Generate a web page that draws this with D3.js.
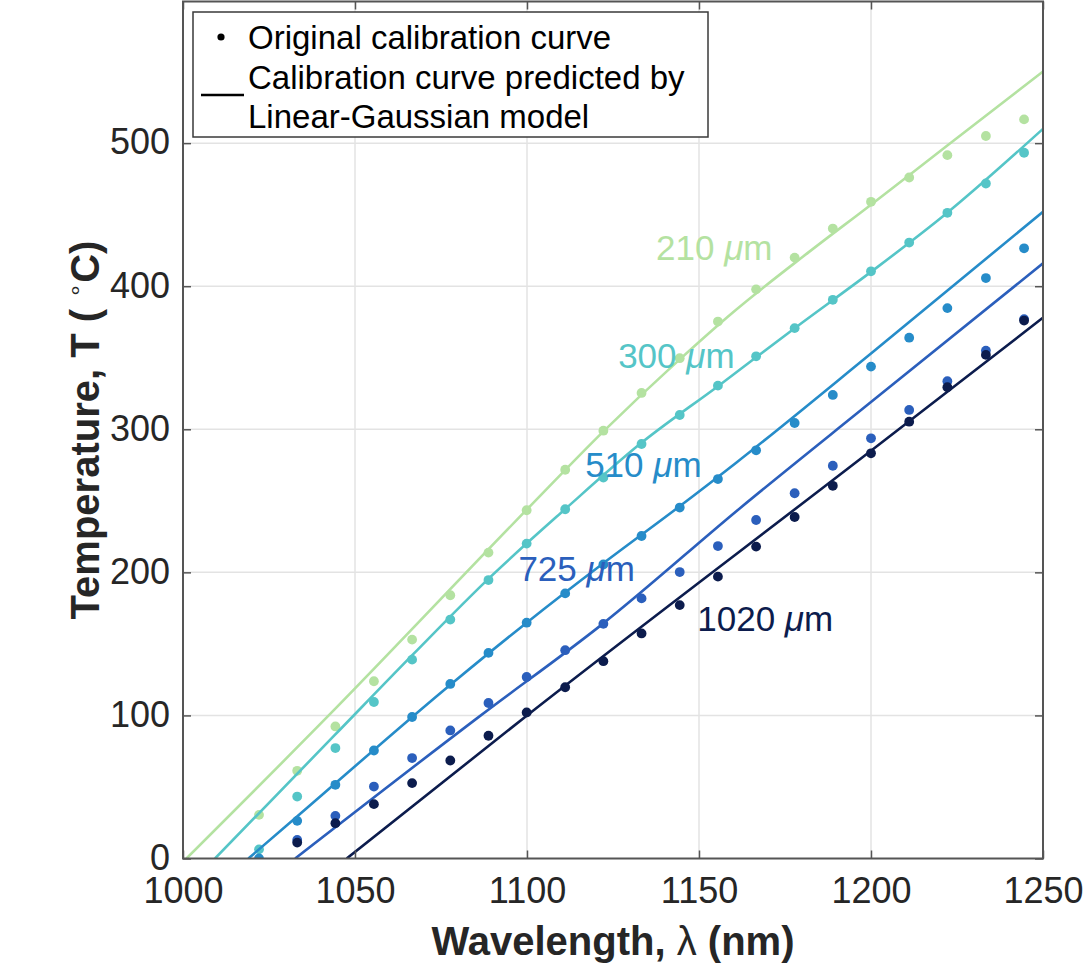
<!DOCTYPE html>
<html>
<head>
<meta charset="utf-8">
<script src="https://cdn.jsdelivr.net/npm/d3@7"></script>
<style>
  body { margin: 0; background: #fff; }
  svg { display: block; }
  text { font-family: 'Liberation Sans', Arial, Helvetica, sans-serif; }
</style>
</head>
<body>
<svg id="calibPlot"></svg>
<script>
// wavelengths (nm) at which the original calibration points were taken
const wavelengths = [1022.1, 1033.2, 1044.3, 1055.5, 1066.6, 1077.7, 1088.8, 1099.9, 1111.1, 1122.2, 1133.3,
                     1144.4, 1155.5, 1166.6, 1177.8, 1188.9, 1200.0, 1211.1, 1222.2, 1233.4, 1244.5];

// sample thicknesses (um)
const thicknesses = ['210', '300', '510', '725', '1020'];

// original calibration points (deg C), null = off the axes
const measured210 = [30.5, 61.3, 92.3, 123.9, 153, 184, 213.8, 243.4, 271.7, 299, 325.4,
                     349.7, 375.3, 397.8, 420, 440.3, 459, 476, 491.6, 505, 516.6];
const measured300 = [6.4, 43.3, 77.2, 109.4, 139, 167, 194.6, 220.1, 244.1, 266.3, 289.7,
                     310, 330.5, 351, 370.7, 390.5, 410.4, 430.5, 451.3, 471.8, 493.3];
const measured510 = [0, 26.3, 51.5, 75.5, 98.9, 122, 143.7, 164.8, 185.3, 205.5, 225.4,
                     245.3, 265.2, 285.3, 304.4, 324, 343.8, 364, 384.7, 405.7, 426.5];
const measured725 = [null, 13, 29.8, 50.3, 70.2, 89.5, 108.7, 126.9, 145.6, 164, 181.8,
                     200.2, 218.4, 236.6, 255.3, 274.5, 293.7, 313.5, 333.6, 355, 377];
const measured1020 = [null, 11.1, 24.7, 38, 52.7, 68.5, 85.8, 102.1, 119.7, 137.9, 157.3,
                      177.1, 197, 218, 238.7, 260.5, 283.2, 305.3, 329.4, 352, 376];

// curves predicted by the Linear-Gaussian model (wavelength, temperature)
const model210Lam = [1001, 1044, 1100, 1122, 1144, 1160, 1182, 1200, 1222, 1250];
const model210T   = [0, 104, 244, 298, 348, 382, 424, 457, 498, 550];
const model300Lam = [1009.3, 1044, 1067, 1089, 1111, 1133, 1156, 1178, 1200, 1222, 1250];
const model300T   = [0, 86, 143, 196, 244, 290, 331, 371, 410, 451, 510];
const model510Lam = [1019, 1033, 1078, 1100, 1122, 1144, 1161, 1200, 1250];
const model510T   = [0, 29, 122, 165, 206, 245.5, 277, 353, 452];
const model725Lam = [1032.6, 1086, 1122, 1162, 1200, 1250];
const model725T   = [0, 99, 164, 245, 319, 416];
const model1020Lam = [1047.6, 1100, 1200, 1250];
const model1020T   = [0, 100, 285, 378];

// axis ticks
const xTicks = [1000, 1050, 1100, 1150, 1200, 1250];
const yTicks = [0, 100, 200, 300, 400, 500];

// build series table from the arrays above
const measuredAll = [measured210, measured300, measured510, measured725, measured1020];
const modelLamAll = [model210Lam, model300Lam, model510Lam, model725Lam, model1020Lam];
const modelTAll = [model210T, model300T, model510T, model725T, model1020T];
const series = thicknesses.map((t, i) => ({
  name: t,
  points: wavelengths.map((w, j) => ({ w: w, t: measuredAll[i][j] })).filter(p => p.t !== null),
  model: modelLamAll[i].map((w, j) => ({ w: w, t: modelTAll[i][j] }))
}));

// colours, YlGnBu-like
const colors = ['#b4e2a1', '#55c5c7', '#268cc9', '#2b5fbc', '#0c1c4d'];

// where each thickness label sits (start of text, baseline), in data units
const labelSpots = [
  { w: 1137.5, t: 418.3 },
  { w: 1126.5, t: 342.6 },
  { w: 1116.9, t: 266.7 },
  { w: 1097.5, t: 194.2 },
  { w: 1149.5, t: 159.2 }
];

// svg size and plot box
let widthSVG = 1083;
let heightSVG = 964;
let box = { left: 183, right: 1043, top: 1.5, bottom: 858.5 };

let SVG = d3.select('svg#calibPlot')
            .attr('width', widthSVG)
            .attr('height', heightSVG);

// scales
let x = d3.scaleLinear().domain([1000, 1250]).range([box.left, box.right]);
let y = d3.scaleLinear().domain([0, 599]).range([box.bottom, box.top]);

// grid lines
let grid = SVG.append('g').classed('grid', true);
grid.selectAll('line.vgrid')
    .data(xTicks.slice(1, -1))
    .enter()
    .append('line')
    .attr('x1', d => x(d)).attr('x2', d => x(d))
    .attr('y1', box.top).attr('y2', box.bottom)
    .style('stroke', '#e3e3e3')
    .style('stroke-width', '1.5px');
grid.selectAll('line.hgrid')
    .data(yTicks.slice(1))
    .enter()
    .append('line')
    .attr('x1', box.left).attr('x2', box.right)
    .attr('y1', d => y(d)).attr('y2', d => y(d))
    .style('stroke', '#e3e3e3')
    .style('stroke-width', '1.5px');

// clip to the axes
SVG.append('clipPath').attr('id', 'plotClip')
   .append('rect')
   .attr('x', box.left).attr('y', box.top)
   .attr('width', box.right - box.left).attr('height', box.bottom - box.top);

let lineGen = d3.line()
                .x(d => x(d.w))
                .y(d => y(d.t))
                .curve(d3.curveMonotoneX);

// series: model line then original points
let seriesGroups = SVG.selectAll('g.series')
                      .data(series)
                      .enter()
                      .append('g')
                      .classed('series', true)
                      .attr('clip-path', 'url(#plotClip)');

seriesGroups.append('path')
            .attr('d', d => lineGen(d.model))
            .style('fill', 'none')
            .style('stroke', (d, i) => colors[i])
            .style('stroke-width', '2.6px');

seriesGroups.each(function(d, i) {
  d3.select(this).selectAll('circle')
    .data(d.points)
    .enter()
    .append('circle')
    .attr('cx', p => x(p.w))
    .attr('cy', p => y(p.t))
    .attr('r', 4.9)
    .style('fill', colors[i]);
});

// axes (ticks point inwards, box all round)
let axisCol = '#555';
let fontTick = '36px';

let xAxis = d3.axisBottom(x).tickValues(xTicks).tickSize(-8).tickPadding(19).tickFormat(d3.format('d'));
let gx = SVG.append('g').attr('transform', `translate(0, ${box.bottom})`).call(xAxis);
let yAxis = d3.axisLeft(y).tickValues(yTicks).tickSize(-8).tickPadding(13).tickFormat(d3.format('d'));
let gy = SVG.append('g').attr('transform', `translate(${box.left}, 0)`).call(yAxis);
let gxTop = SVG.append('g').attr('transform', `translate(0, ${box.top})`)
               .call(d3.axisTop(x).tickValues(xTicks).tickSize(-8).tickFormat(''));
let gyRight = SVG.append('g').attr('transform', `translate(${box.right}, 0)`)
                 .call(d3.axisRight(y).tickValues(yTicks).tickSize(-8).tickFormat(''));

[gx, gy, gxTop, gyRight].forEach(g => {
  g.select('.domain').remove();
  g.selectAll('.tick line').style('stroke', axisCol).style('stroke-width', '1.5px');
  g.selectAll('.tick text')
   .style('font-size', fontTick)
   .style('font-family', "'Liberation Sans', Arial, sans-serif")
   .style('fill', '#262626');
});
// keep the "0" label clear of "1000"
gy.selectAll('.tick text').attr('dy', '0.3em');

SVG.append('rect')
   .attr('x', box.left).attr('y', box.top)
   .attr('width', box.right - box.left).attr('height', box.bottom - box.top)
   .style('fill', 'none')
   .style('stroke', axisCol)
   .style('stroke-width', '2px');

// axis titles
SVG.append('text')
   .attr('x', (box.left + box.right) / 2)
   .attr('y', 955)
   .style('text-anchor', 'middle')
   .style('font-size', '40px')
   .style('font-weight', 'bold')
   .style('fill', '#262626')
   .call(t => {
     t.append('tspan').text('Wavelength, ');
     t.append('tspan').style('font-weight', 'normal').text('λ');
     t.append('tspan').text(' (nm)');
   });

SVG.append('text')
   .attr('transform', `translate(99, ${(box.top + box.bottom) / 2}) rotate(-90)`)
   .style('text-anchor', 'middle')
   .style('font-size', '40px')
   .style('font-weight', 'bold')
   .style('fill', '#262626')
   .call(t => {
     t.append('tspan').text('Temperature, T ( ');
     t.append('tspan').attr('dy', -16).style('font-size', '24px').style('font-weight', 'normal').text('∘');
     t.append('tspan').attr('dy', 16).text('C)');
   });

// thickness labels
SVG.selectAll('text.thickLabel')
   .data(labelSpots)
   .enter()
   .append('text')
   .classed('thickLabel', true)
   .attr('x', d => x(d.w))
   .attr('y', d => y(d.t))
   .style('font-size', '35px')
   .style('fill', (d, i) => colors[i])
   .each(function(d, i) {
     let t = d3.select(this);
     t.append('tspan').text(thicknesses[i] + ' ');
     t.append('tspan').style('font-style', 'italic').text('μ');
     t.append('tspan').text('m');
   });

// legend
let legend = SVG.append('g').classed('legend', true);
legend.append('rect')
      .attr('x', 193).attr('y', 12)
      .attr('width', 515).attr('height', 125)
      .style('fill', '#fff')
      .style('stroke', '#3a3a3a')
      .style('stroke-width', '1.5px');
legend.append('circle')
      .attr('cx', 221).attr('cy', 37)
      .attr('r', 3.6)
      .style('fill', '#000');
legend.append('line')
      .attr('x1', 201).attr('x2', 244)
      .attr('y1', 95).attr('y2', 95)
      .style('stroke', '#000')
      .style('stroke-width', '2.6px');
legend.selectAll('text')
      .data(['Original calibration curve', 'Calibration curve predicted by', 'Linear-Gaussian model'])
      .enter()
      .append('text')
      .text(d => d)
      .attr('x', 248)
      .attr('y', (d, i) => 49 + i * 39.5)
      .style('font-size', '33px')
      .style('fill', '#000');
</script>
</body>
</html>
